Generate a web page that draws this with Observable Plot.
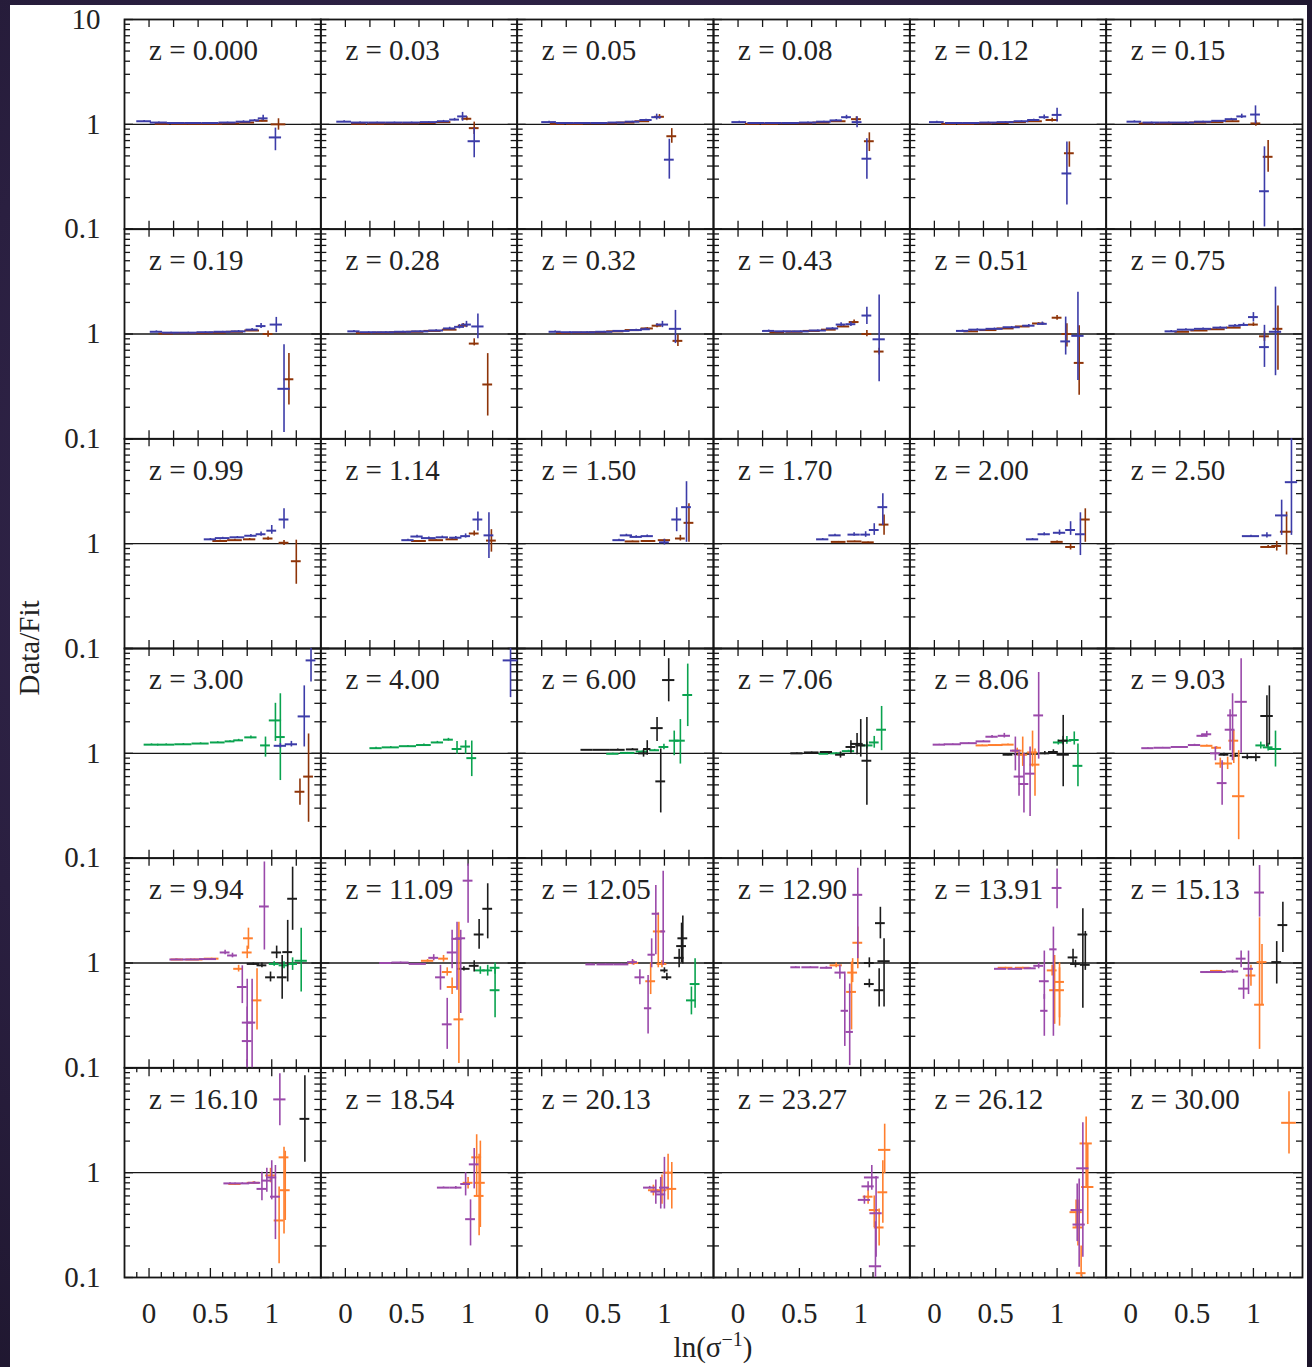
<!DOCTYPE html>
<html><head><meta charset="utf-8">
<script src="https://cdn.jsdelivr.net/npm/d3@7"></script>
<script src="https://cdn.jsdelivr.net/npm/@observablehq/plot@0.6"></script>
<style>
html,body{margin:0;padding:0;}
body{width:1312px;height:1367px;overflow:hidden;position:relative;
 background:radial-gradient(ellipse at 40% 40%, #3b2d58 0%, #2a1f40 55%, #1b1429 100%);}
#chart{position:absolute;left:10px;top:5px;}
</style></head><body><div id="chart"></div>
<script>
// ---- panel labels (redshift), row-major, 6 columns ----
const zLabels = ["z = 0.000","z = 0.03","z = 0.05","z = 0.08","z = 0.12","z = 0.15",
 "z = 0.19","z = 0.28","z = 0.32","z = 0.43","z = 0.51","z = 0.75",
 "z = 0.99","z = 1.14","z = 1.50","z = 1.70","z = 2.00","z = 2.50",
 "z = 3.00","z = 4.00","z = 6.00","z = 7.06","z = 8.06","z = 9.03",
 "z = 9.94","z = 11.09","z = 12.05","z = 12.90","z = 13.91","z = 15.13",
 "z = 16.10","z = 18.54","z = 20.13","z = 23.27","z = 26.12","z = 30.00"];

// ---- tick labels ----
const yTickValues = [10, 1, 0.1];
const yTickText = ["10", "1", "0.1"];
const xTickValues = [0, 0.5, 1];
const xTickText = ["0", "0.5", "1"];
const yMajorTicks = [0.1, 1, 10];
const yMinorTicks = [0.2,0.3,0.4,0.5,0.6,0.7,0.8,0.9,2,3,4,5,6,7,8,9];
const xTicksInner = [0, 0.2, 0.4, 0.6, 0.8, 1.0, 1.2];
const xTicksLastMajor = [0, 0.5, 1];
const xTicksLastMinor = [-0.1,0.1,0.2,0.3,0.4,0.6,0.7,0.8,0.9,1.1,1.2,1.3];

// ---- series: [panel, x, x half-width, y, y low, y high] ----
const blueData = [
 [0,-0.04,0.06,1.07,1.05,1.09],[0,0.08,0.07,1.04,1.03,1.05],[0,0.22,0.07,1.03,1.02,1.04],[0,0.36,0.07,1.03,1.02,1.04],[0,0.50,0.07,1.03,1.02,1.04],[0,0.64,0.07,1.04,1.03,1.05],[0,0.77,0.06,1.06,1.04,1.08],[0,0.86,0.04,1.09,1.07,1.11],[0,0.93,0.04,1.14,1.08,1.22],[0,1.03,0.05,0.75,0.56,0.92],
 [1,-0.01,0.06,1.06,1.04,1.08],[1,0.12,0.07,1.04,1.03,1.05],[1,0.26,0.07,1.04,1.03,1.05],[1,0.40,0.07,1.04,1.03,1.05],[1,0.54,0.07,1.04,1.03,1.05],[1,0.68,0.07,1.05,1.04,1.06],[1,0.80,0.05,1.07,1.05,1.09],[1,0.89,0.04,1.11,1.08,1.14],[1,0.955,0.04,1.19,1.07,1.3],[1,1.05,0.05,0.69,0.48,0.92],
 [2,0.06,0.06,1.05,1.04,1.07],[2,0.19,0.07,1.03,1.02,1.04],[2,0.33,0.07,1.03,1.02,1.04],[2,0.47,0.07,1.03,1.02,1.04],[2,0.61,0.07,1.04,1.03,1.05],[2,0.74,0.06,1.06,1.05,1.07],[2,0.85,0.05,1.1,1.08,1.12],[2,0.937,0.04,1.17,1.1,1.25],[2,1.04,0.04,0.46,0.30,0.72],
 [3,0.01,0.06,1.05,1.04,1.07],[3,0.15,0.07,1.03,1.02,1.04],[3,0.29,0.07,1.03,1.02,1.04],[3,0.43,0.07,1.03,1.02,1.04],[3,0.57,0.07,1.04,1.03,1.05],[3,0.70,0.06,1.06,1.05,1.07],[3,0.80,0.05,1.09,1.07,1.11],[3,0.884,0.04,1.17,1.12,1.22],[3,0.97,0.04,1.05,0.93,1.18],[3,1.05,0.04,0.47,0.30,0.73],
 [4,0.02,0.06,1.05,1.04,1.07],[4,0.16,0.07,1.03,1.02,1.04],[4,0.30,0.07,1.03,1.02,1.04],[4,0.44,0.07,1.04,1.03,1.05],[4,0.58,0.07,1.05,1.04,1.06],[4,0.71,0.06,1.07,1.06,1.08],[4,0.81,0.05,1.1,1.08,1.12],[4,0.895,0.04,1.17,1.12,1.23],[4,1.0,0.04,1.23,1.05,1.42],[4,1.08,0.04,0.34,0.17,0.68],
 [5,0.03,0.06,1.06,1.04,1.08],[5,0.17,0.07,1.04,1.03,1.05],[5,0.31,0.07,1.04,1.03,1.05],[5,0.45,0.07,1.04,1.03,1.05],[5,0.59,0.07,1.06,1.05,1.07],[5,0.72,0.06,1.08,1.07,1.09],[5,0.82,0.05,1.12,1.1,1.14],[5,0.905,0.04,1.19,1.14,1.25],[5,1.017,0.04,1.24,1.01,1.5],[5,1.09,0.04,0.23,0.105,0.61],
 [6,0.06,0.05,1.05,1.04,1.07],[6,0.18,0.07,1.03,1.02,1.04],[6,0.32,0.07,1.03,1.02,1.04],[6,0.46,0.07,1.04,1.03,1.05],[6,0.60,0.07,1.05,1.04,1.06],[6,0.73,0.06,1.06,1.05,1.08],[6,0.84,0.05,1.1,1.08,1.13],[6,0.913,0.04,1.19,1.13,1.26],[6,1.037,0.05,1.23,1.03,1.44],[6,1.1,0.05,0.30,0.115,0.79],
 [7,0.07,0.05,1.06,1.04,1.08],[7,0.19,0.07,1.04,1.03,1.05],[7,0.33,0.07,1.04,1.03,1.05],[7,0.47,0.07,1.05,1.04,1.06],[7,0.61,0.07,1.06,1.05,1.07],[7,0.74,0.06,1.08,1.07,1.1],[7,0.85,0.05,1.13,1.1,1.16],[7,0.93,0.04,1.17,1.12,1.23],[7,0.987,0.04,1.23,1.15,1.32],[7,1.08,0.05,1.18,0.9,1.55],
 [8,0.11,0.05,1.05,1.04,1.07],[8,0.23,0.07,1.04,1.03,1.05],[8,0.37,0.07,1.04,1.03,1.05],[8,0.51,0.07,1.05,1.04,1.06],[8,0.65,0.07,1.07,1.06,1.08],[8,0.77,0.05,1.09,1.08,1.11],[8,0.845,0.04,1.11,1.08,1.14],[8,0.984,0.05,1.23,1.15,1.32],[8,1.09,0.05,1.12,0.81,1.68],
 [9,0.25,0.05,1.07,1.05,1.09],[9,0.37,0.07,1.06,1.05,1.07],[9,0.51,0.07,1.06,1.05,1.07],[9,0.65,0.07,1.08,1.07,1.09],[9,0.77,0.05,1.13,1.11,1.15],[9,0.84,0.04,1.23,1.18,1.28],[9,0.92,0.04,1.24,1.18,1.3],[9,1.05,0.04,1.5,1.23,1.8],[9,1.15,0.05,0.89,0.35,2.35],
 [10,0.23,0.05,1.07,1.05,1.09],[10,0.35,0.07,1.1,1.09,1.12],[10,0.49,0.07,1.12,1.1,1.14],[10,0.63,0.07,1.16,1.14,1.18],[10,0.77,0.05,1.2,1.18,1.23],[10,0.88,0.04,1.25,1.21,1.3],[10,1.07,0.04,0.85,0.63,1.45],[10,1.17,0.05,0.96,0.36,2.5],
 [11,0.33,0.05,1.06,1.05,1.08],[11,0.45,0.07,1.1,1.08,1.12],[11,0.59,0.07,1.12,1.1,1.14],[11,0.73,0.06,1.15,1.13,1.17],[11,0.85,0.05,1.2,1.17,1.23],[11,0.92,0.04,1.22,1.18,1.27],[11,1.0,0.04,1.45,1.3,1.6],[11,1.09,0.04,0.75,0.48,1.21],[11,1.18,0.05,1.05,0.4,2.8],
 [12,0.5,0.05,1.1,1.08,1.12],[12,0.6,0.06,1.13,1.11,1.15],[12,0.72,0.06,1.15,1.13,1.17],[12,0.83,0.05,1.19,1.16,1.22],[12,0.913,0.04,1.23,1.18,1.29],[12,1.0,0.04,1.33,1.23,1.49],[12,1.1,0.04,1.7,1.38,2.15],
 [13,0.51,0.05,1.08,1.06,1.1],[13,0.584,0.05,1.17,1.14,1.2],[13,0.68,0.06,1.13,1.11,1.16],[13,0.79,0.05,1.15,1.12,1.18],[13,0.9,0.05,1.14,1.11,1.17],[13,0.98,0.04,1.18,1.13,1.24],[13,1.08,0.04,1.7,1.32,2.0],[13,1.17,0.04,1.2,0.72,1.97],
 [14,0.63,0.05,1.08,1.06,1.1],[14,0.69,0.05,1.2,1.17,1.23],[14,0.77,0.05,1.16,1.13,1.19],[14,0.86,0.05,1.18,1.15,1.21],[14,1.0,0.04,1.03,0.97,1.1],[14,1.1,0.04,1.7,1.3,2.2],[14,1.18,0.04,2.23,1.03,3.9],
 [15,0.69,0.05,1.1,1.08,1.12],[15,0.79,0.05,1.2,1.17,1.23],[15,0.946,0.05,1.22,1.18,1.27],[15,1.04,0.04,1.22,1.15,1.3],[15,1.11,0.04,1.35,1.2,1.55],[15,1.18,0.04,2.23,1.49,3.0],
 [16,0.8,0.05,1.1,1.08,1.12],[16,0.895,0.05,1.23,1.19,1.27],[16,1.02,0.05,1.27,1.2,1.35],[16,1.11,0.04,1.35,1.2,1.62],[16,1.19,0.04,1.23,0.77,1.97],
 [17,0.98,0.07,1.18,1.16,1.2],[17,1.11,0.04,1.2,1.13,1.27],[17,1.23,0.05,1.86,1.2,2.6],[17,1.31,0.05,3.86,1.2,10],
 [18,1.07,0.05,1.18,1.12,1.24],[18,1.16,0.05,1.22,1.15,1.3],[18,1.265,0.05,2.25,1.15,4.4],[18,1.32,0.04,7.7,4.8,10],
 [19,1.346,0.06,7.7,3.4,10]
];
const brownData = [
 [0,0.11,0.06,1.01,1.0,1.02],[0,0.25,0.07,1.01,1.0,1.02],[0,0.39,0.07,1.01,1.0,1.02],[0,0.53,0.07,1.01,1.0,1.02],[0,0.67,0.07,1.02,1.01,1.03],[0,0.8,0.06,1.04,1.03,1.05],[0,0.92,0.05,1.08,1.06,1.1],[0,1.055,0.06,1.0,0.88,1.13],
 [1,0.11,0.06,1.01,1.0,1.02],[1,0.25,0.07,1.01,1.0,1.02],[1,0.39,0.07,1.02,1.01,1.03],[1,0.53,0.07,1.02,1.01,1.03],[1,0.67,0.07,1.03,1.02,1.04],[1,0.8,0.06,1.05,1.04,1.06],[1,0.99,0.04,1.13,1.08,1.18],[1,1.05,0.04,0.92,0.8,1.05],
 [2,0.13,0.06,1.01,1.0,1.02],[2,0.27,0.07,1.01,1.0,1.02],[2,0.41,0.07,1.02,1.01,1.03],[2,0.55,0.07,1.02,1.01,1.03],[2,0.69,0.07,1.04,1.03,1.05],[2,0.82,0.06,1.07,1.06,1.08],[2,0.96,0.04,1.18,1.12,1.24],[2,1.06,0.04,0.77,0.66,0.91],
 [3,0.12,0.06,1.01,1.0,1.02],[3,0.26,0.07,1.01,1.0,1.02],[3,0.4,0.07,1.02,1.01,1.03],[3,0.54,0.07,1.02,1.01,1.03],[3,0.68,0.07,1.04,1.03,1.05],[3,0.82,0.06,1.07,1.06,1.08],[3,0.965,0.04,1.12,1.06,1.18],[3,1.07,0.04,0.69,0.55,0.83],
 [4,0.12,0.06,1.01,1.0,1.02],[4,0.26,0.07,1.01,1.0,1.02],[4,0.4,0.07,1.02,1.01,1.03],[4,0.54,0.07,1.03,1.02,1.04],[4,0.68,0.07,1.05,1.04,1.06],[4,0.82,0.06,1.07,1.06,1.08],[4,0.96,0.05,1.1,1.05,1.14],[4,1.1,0.04,0.53,0.39,0.68],
 [5,0.13,0.06,1.02,1.01,1.03],[5,0.27,0.07,1.02,1.01,1.03],[5,0.41,0.07,1.03,1.02,1.04],[5,0.55,0.07,1.04,1.03,1.05],[5,0.69,0.07,1.05,1.04,1.06],[5,0.83,0.06,1.07,1.06,1.08],[5,1.02,0.04,1.02,0.96,1.08],[5,1.12,0.04,0.49,0.35,0.7],
 [6,0.14,0.06,1.01,1.0,1.02],[6,0.28,0.07,1.02,1.01,1.03],[6,0.42,0.07,1.02,1.01,1.03],[6,0.56,0.07,1.03,1.02,1.04],[6,0.7,0.07,1.05,1.04,1.06],[6,0.84,0.06,1.08,1.06,1.1],[6,0.97,0.04,1.0,0.93,1.07],[6,1.14,0.04,0.37,0.21,0.65],
 [7,0.15,0.06,1.02,1.01,1.03],[7,0.29,0.07,1.03,1.02,1.04],[7,0.43,0.07,1.04,1.03,1.05],[7,0.57,0.07,1.05,1.04,1.06],[7,0.71,0.07,1.07,1.06,1.08],[7,0.85,0.06,1.1,1.08,1.12],[7,0.96,0.04,1.2,1.14,1.26],[7,1.05,0.04,0.81,0.77,0.9],[7,1.16,0.04,0.33,0.165,0.65],
 [8,0.18,0.06,1.02,1.01,1.03],[8,0.32,0.07,1.03,1.02,1.04],[8,0.46,0.07,1.04,1.03,1.05],[8,0.6,0.07,1.06,1.05,1.07],[8,0.74,0.06,1.09,1.08,1.1],[8,0.86,0.05,1.13,1.11,1.15],[8,0.94,0.04,1.2,1.15,1.25],[8,1.11,0.04,0.86,0.76,0.98],
 [9,0.32,0.06,1.04,1.03,1.05],[9,0.46,0.07,1.05,1.04,1.06],[9,0.6,0.07,1.07,1.06,1.08],[9,0.74,0.06,1.1,1.09,1.11],[9,0.86,0.05,1.18,1.16,1.2],[9,0.946,0.04,1.3,1.25,1.36],[9,1.05,0.04,1.0,0.94,1.08],[9,1.15,0.04,0.68,0.63,0.73],
 [10,0.3,0.06,1.06,1.05,1.07],[10,0.44,0.07,1.09,1.08,1.1],[10,0.58,0.07,1.13,1.12,1.14],[10,0.72,0.06,1.18,1.16,1.2],[10,0.85,0.05,1.26,1.24,1.28],[10,1.0,0.04,1.43,1.35,1.5],[10,1.08,0.04,1.0,0.75,1.25],[10,1.18,0.04,0.53,0.26,1.2],
 [11,0.42,0.06,1.05,1.04,1.06],[11,0.56,0.07,1.08,1.07,1.09],[11,0.7,0.07,1.11,1.1,1.12],[11,0.84,0.06,1.15,1.13,1.17],[11,1.0,0.04,1.23,1.18,1.28],[11,1.09,0.04,0.95,0.85,1.05],[11,1.2,0.04,1.12,0.45,1.85],
 [12,0.58,0.06,1.06,1.05,1.08],[12,0.7,0.06,1.08,1.06,1.1],[12,0.82,0.05,1.1,1.08,1.12],[12,0.97,0.04,1.12,1.08,1.16],[12,1.1,0.04,1.02,0.96,1.07],[12,1.2,0.04,0.68,0.41,1.08],
 [13,0.6,0.06,1.06,1.05,1.07],[13,0.74,0.06,1.08,1.07,1.09],[13,0.87,0.05,1.1,1.08,1.12],[13,1.05,0.04,1.25,1.18,1.32],[13,1.19,0.04,1.07,0.83,1.36],
 [14,0.74,0.06,1.05,1.04,1.06],[14,0.87,0.06,1.06,1.05,1.07],[14,1.0,0.05,1.08,1.06,1.1],[14,1.13,0.04,1.12,1.06,1.2],[14,1.2,0.04,1.58,1.03,2.4],
 [15,0.82,0.06,1.04,1.03,1.05],[15,0.95,0.06,1.05,1.04,1.06],[15,1.06,0.05,1.03,1.02,1.04],[15,1.19,0.04,1.52,1.2,1.88],
 [16,1.0,0.05,1.04,1.02,1.06],[16,1.11,0.04,0.93,0.87,0.99],[16,1.23,0.04,1.7,1.03,2.15],
 [17,1.12,0.06,0.93,0.9,0.96],[17,1.19,0.04,0.95,0.85,1.05],[17,1.27,0.05,1.3,0.78,2.0],
 [18,1.23,0.04,0.43,0.32,0.57],[18,1.30,0.04,0.6,0.22,1.53]
];
const greenData = [
 [18,0.02,0.06,1.21,1.2,1.23],[18,0.14,0.07,1.21,1.2,1.23],[18,0.28,0.07,1.22,1.21,1.24],[18,0.42,0.07,1.24,1.22,1.26],[18,0.56,0.06,1.27,1.25,1.29],[18,0.66,0.04,1.3,1.28,1.32],[18,0.73,0.04,1.33,1.31,1.36],[18,0.83,0.05,1.42,1.38,1.46],[18,0.949,0.04,1.19,0.92,1.43],[18,1.03,0.05,2.06,1.3,3.0],[18,1.07,0.04,1.43,0.55,3.7],
 [19,0.25,0.05,1.12,1.1,1.14],[19,0.37,0.07,1.14,1.12,1.16],[19,0.51,0.07,1.17,1.15,1.19],[19,0.64,0.06,1.2,1.18,1.23],[19,0.75,0.05,1.27,1.24,1.3],[19,0.84,0.04,1.35,1.31,1.39],[19,0.91,0.04,1.1,0.98,1.3],[19,0.98,0.04,1.16,0.98,1.32],[19,1.03,0.04,0.9,0.6,1.31],
 [20,0.58,0.05,0.99,0.98,1.0],[20,0.7,0.06,1.01,1.0,1.02],[20,0.82,0.05,1.04,1.03,1.05],[20,0.92,0.04,1.07,1.05,1.09],[20,0.996,0.04,1.15,1.08,1.22],[20,1.08,0.04,1.32,0.95,1.63],[20,1.13,0.04,1.32,0.79,2.1],[20,1.19,0.04,3.6,1.8,7.1],
 [21,0.7,0.04,0.99,0.98,1.0],[21,0.8,0.05,1.0,0.99,1.01],[21,0.9,0.05,1.05,1.03,1.07],[21,1.05,0.05,1.19,1.1,1.28],[21,1.11,0.04,1.27,1.12,1.45],[21,1.17,0.04,1.68,1.06,2.8],
 [22,1.01,0.04,1.27,1.2,1.34],[22,1.08,0.04,1.32,1.22,1.45],[22,1.14,0.04,1.34,1.2,1.6],[22,1.17,0.04,0.76,0.48,1.23],
 [23,1.06,0.04,1.19,1.1,1.28],[23,1.12,0.04,1.14,1.05,1.25],[23,1.18,0.05,1.1,0.74,1.63],
 [24,1.02,0.04,0.98,0.93,1.03],[24,1.1,0.04,0.95,0.88,1.03],[24,1.17,0.04,0.98,0.85,1.12],[24,1.24,0.05,1.05,0.53,2.15],
 [25,1.1,0.04,0.85,0.78,0.92],[25,1.16,0.04,0.85,0.75,0.95],[25,1.22,0.04,0.9,0.78,1.0],[25,1.22,0.04,0.55,0.3,0.88],
 [26,1.25,0.04,0.63,0.37,1.1],[26,1.22,0.04,0.44,0.32,0.59]
];
const blackData = [
 [20,0.37,0.05,1.08,1.07,1.09],[20,0.49,0.07,1.08,1.07,1.09],[20,0.62,0.06,1.08,1.07,1.1],[20,0.74,0.05,1.09,1.07,1.11],[20,0.83,0.04,1.0,0.92,1.08],[20,0.86,0.03,1.1,0.96,1.32],[20,0.94,0.05,1.74,1.3,2.2],[20,0.97,0.04,0.54,0.27,1.1],[20,1.035,0.05,5.0,3.1,8.0],
 [21,0.48,0.05,1.0,0.99,1.01],[21,0.6,0.06,1.02,1.01,1.03],[21,0.72,0.05,1.03,1.02,1.04],[21,0.835,0.04,0.97,0.9,1.03],[21,0.92,0.04,1.15,1.0,1.32],[21,0.97,0.05,1.23,0.97,1.55],[21,1.0,0.04,1.19,0.92,2.1],[21,1.05,0.04,0.85,0.32,2.2],
 [22,0.6,0.04,0.97,0.95,0.99],[22,0.7,0.05,0.98,0.96,1.0],[22,0.8,0.05,0.99,0.97,1.01],[22,0.9,0.04,1.0,0.97,1.04],[22,0.97,0.04,1.03,0.99,1.08],[22,1.05,0.04,1.32,1.2,1.45],[22,1.05,0.05,0.97,0.48,2.3],
 [23,0.76,0.04,0.97,0.94,1.0],[23,0.85,0.04,0.95,0.92,0.98],[23,0.95,0.04,0.92,0.87,0.97],[23,1.02,0.04,0.92,0.83,1.0],[23,1.11,0.05,2.27,1.15,3.55],[23,1.13,0.03,2.27,1.2,4.4],
 [24,0.85,0.05,0.98,0.95,1.0],[24,0.92,0.04,0.95,0.9,1.0],[24,0.99,0.04,0.73,0.66,0.82],[24,1.04,0.04,1.26,1.1,1.45],[24,1.085,0.04,0.73,0.45,1.18],[24,1.13,0.04,1.27,0.66,2.55],[24,1.17,0.04,4.1,2.05,8.2],
 [25,0.966,0.05,0.88,0.84,0.92],[25,1.05,0.04,0.94,0.82,1.05],[25,1.09,0.04,1.87,1.35,2.6],[25,1.16,0.04,3.29,1.7,5.7],
 [26,1.0,0.03,0.85,0.8,0.9],[26,1.02,0.04,0.73,0.68,0.8],[26,1.12,0.04,1.12,0.9,1.35],[26,1.14,0.04,1.45,1.0,2.4],[26,1.15,0.04,1.72,0.98,2.8],
 [27,1.07,0.04,1.0,0.9,1.12],[27,1.07,0.04,0.63,0.58,0.7],[27,1.15,0.04,0.55,0.38,0.88],[27,1.16,0.04,2.4,1.7,3.4],[27,1.19,0.05,1.04,0.38,1.7],
 [28,1.13,0.04,1.13,0.95,1.35],[28,1.15,0.04,0.98,0.9,1.06],[28,1.21,0.04,1.87,0.37,3.3],[28,1.23,0.04,0.96,0.85,2.0],
 [29,1.19,0.04,1.02,0.63,1.6],[29,1.24,0.04,2.3,1.26,3.8],
 [30,1.27,0.04,3.26,1.26,8.4]
];
const orangeData = [
 [22,0.39,0.05,1.19,1.18,1.2],[22,0.5,0.06,1.2,1.19,1.21],[22,0.6,0.05,1.21,1.2,1.23],[22,0.675,0.04,1.06,1.0,1.12],[22,0.72,0.04,0.97,0.75,1.43],[22,0.8,0.04,1.02,0.74,1.63],[22,0.82,0.04,0.78,0.39,1.1],
 [23,0.62,0.05,1.18,1.16,1.2],[23,0.7,0.04,1.13,1.1,1.16],[23,0.73,0.04,0.8,0.72,0.9],[23,0.79,0.04,0.8,0.7,0.92],[23,0.84,0.04,1.32,0.8,1.65],[23,0.88,0.05,0.39,0.15,1.06],
 [24,0.23,0.05,1.08,1.07,1.09],[24,0.37,0.07,1.08,1.07,1.09],[24,0.51,0.06,1.1,1.09,1.11],[24,0.73,0.04,0.88,0.82,0.95],[24,0.8,0.04,1.26,1.1,1.45],[24,0.81,0.04,1.72,1.35,2.15],[24,0.88,0.04,0.44,0.23,0.88],
 [25,0.67,0.05,1.05,1.02,1.08],[25,0.8,0.04,1.1,1.02,1.18],[25,0.83,0.04,0.82,0.75,0.9],[25,0.87,0.04,0.59,0.5,0.72],[25,0.925,0.04,0.29,0.11,2.45],
 [26,0.75,0.04,1.0,0.95,1.05],[26,0.888,0.04,0.67,0.5,1.0],[26,0.95,0.04,2.0,0.9,3.0],[26,0.98,0.04,0.98,0.9,1.05],
 [27,0.8,0.05,0.95,0.9,1.0],[27,0.934,0.04,0.81,0.65,1.1],[27,0.925,0.04,0.53,0.23,1.02],[27,0.976,0.04,1.56,0.88,2.2],
 [28,0.58,0.06,0.9,0.89,0.91],[28,0.72,0.06,0.9,0.89,0.91],[28,0.96,0.04,0.85,0.75,0.95],[28,0.98,0.04,0.55,0.26,1.18],[28,1.02,0.04,0.66,0.3,1.0],[28,1.02,0.04,0.55,0.25,0.9],
 [29,0.7,0.05,0.84,0.83,0.85],[29,0.98,0.04,0.76,0.6,0.95],[29,1.05,0.04,0.4,0.15,2.7],[29,1.07,0.04,1.02,0.4,1.5],
 [30,0.7,0.05,0.78,0.77,0.79],[30,0.85,0.05,0.8,0.78,0.82],[30,0.99,0.04,0.94,0.8,1.1],[30,1.06,0.04,0.35,0.135,0.73],[30,1.1,0.04,1.4,0.26,1.75],[30,1.11,0.04,0.68,0.35,1.6],
 [31,1.0,0.04,0.8,0.7,0.9],[31,1.07,0.04,1.4,0.6,2.3],[31,1.1,0.04,0.8,0.3,2.0],[31,1.09,0.04,0.6,0.25,1.5],
 [32,0.91,0.04,0.68,0.6,0.76],[32,0.98,0.04,0.68,0.5,0.95],[32,1.03,0.04,1.0,0.55,1.5],[32,1.06,0.04,0.7,0.45,1.25],
 [33,1.06,0.04,0.59,0.5,0.68],[33,1.11,0.04,0.44,0.3,0.6],[33,1.15,0.04,0.3,0.2,0.45],[33,1.18,0.04,0.65,0.33,1.3],[33,1.195,0.05,1.65,0.98,2.9],
 [34,1.155,0.05,0.42,0.3,0.55],[34,1.17,0.04,0.3,0.2,0.55],[34,1.196,0.04,0.11,0.1,0.2],[34,1.237,0.05,1.9,0.73,3.4],[34,1.25,0.05,0.73,0.32,1.9],
 [35,1.29,0.06,2.99,1.51,5.9]
];
const purpleData = [
 [22,0.04,0.05,1.21,1.2,1.22],[22,0.15,0.07,1.22,1.21,1.23],[22,0.28,0.07,1.25,1.24,1.26],[22,0.4,0.06,1.3,1.28,1.32],[22,0.47,0.05,1.44,1.4,1.48],[22,0.57,0.05,1.47,1.4,1.55],[22,0.66,0.04,1.06,0.68,1.43],[22,0.69,0.04,0.6,0.39,1.02],[22,0.73,0.04,0.51,0.27,1.0],[22,0.78,0.04,0.64,0.25,1.15],[22,0.85,0.04,2.3,0.88,5.9],
 [23,0.14,0.05,1.12,1.11,1.13],[23,0.26,0.07,1.13,1.12,1.14],[23,0.4,0.07,1.15,1.14,1.16],[23,0.52,0.05,1.2,1.18,1.22],[23,0.58,0.04,1.47,1.42,1.52],[23,0.62,0.04,1.52,1.42,1.62],[23,0.69,0.04,1.0,0.85,1.15],[23,0.745,0.04,0.52,0.32,0.85],[23,0.81,0.04,1.68,1.06,2.6],[23,0.83,0.04,2.3,0.85,3.7],[23,0.9,0.05,3.1,1.0,8.0],
 [24,0.22,0.05,1.08,1.07,1.09],[24,0.34,0.07,1.08,1.07,1.09],[24,0.48,0.07,1.09,1.08,1.1],[24,0.62,0.04,1.26,1.2,1.32],[24,0.68,0.04,1.18,1.12,1.24],[24,0.76,0.04,0.59,0.41,0.94],[24,0.8,0.04,0.27,0.105,0.7],[24,0.8,0.04,0.18,0.1,0.38],[24,0.84,0.03,0.27,0.1,0.7],[24,0.94,0.04,3.46,1.33,9.2],
 [25,0.33,0.05,1.0,0.99,1.01],[25,0.45,0.07,1.01,1.0,1.02],[25,0.59,0.07,0.98,0.97,0.99],[25,0.72,0.04,1.12,1.05,1.2],[25,0.775,0.04,0.73,0.55,0.95],[25,0.83,0.04,0.26,0.15,0.46],[25,0.87,0.04,1.26,0.88,2.05],[25,0.91,0.04,1.7,0.55,2.45],[25,0.94,0.04,1.72,0.33,2.05],[25,1.0,0.04,6.1,2.4,8.8],
 [26,0.4,0.04,0.97,0.96,0.98],[26,0.52,0.07,0.97,0.96,0.98],[26,0.65,0.06,0.97,0.96,0.98],[26,0.74,0.04,1.02,0.96,1.08],[26,0.8,0.04,0.73,0.62,0.86],[26,0.867,0.03,0.37,0.21,0.76],[26,0.896,0.03,1.2,0.9,1.7],[26,0.93,0.03,2.95,1.2,5.5],[26,0.99,0.02,2.0,0.95,7.5],
 [27,0.47,0.04,0.91,0.9,0.92],[27,0.59,0.07,0.91,0.9,0.92],[27,0.72,0.05,0.9,0.88,0.92],[27,0.83,0.04,0.81,0.7,0.95],[27,0.87,0.03,0.35,0.16,0.82],[27,0.91,0.03,0.22,0.105,0.63],[27,0.976,0.04,4.47,1.1,8.0],
 [28,0.54,0.05,0.88,0.87,0.89],[28,0.66,0.06,0.88,0.87,0.89],[28,0.78,0.05,0.89,0.88,0.9],[28,0.85,0.04,0.94,0.88,1.0],[28,0.896,0.04,0.67,0.45,1.3],[28,0.896,0.03,0.35,0.2,0.5],[28,0.97,0.03,1.35,0.2,2.2],[28,1.0,0.04,5.2,3.3,7.9],
 [29,0.62,0.05,0.82,0.81,0.83],[29,0.72,0.06,0.82,0.81,0.83],[29,0.83,0.05,0.83,0.8,0.86],[29,0.9,0.04,1.1,0.9,1.3],[29,0.92,0.04,0.57,0.45,0.7],[29,0.96,0.04,0.88,0.5,1.3],[29,1.05,0.04,4.7,2.74,8.5],
 [30,0.66,0.05,0.79,0.78,0.8],[30,0.76,0.06,0.79,0.78,0.8],[30,0.86,0.05,0.8,0.78,0.82],[30,0.92,0.04,0.7,0.54,1.01],[30,0.96,0.04,0.84,0.65,1.1],[30,1.0,0.04,0.9,0.55,1.3],[30,1.03,0.04,0.59,0.23,1.17],[30,1.066,0.05,5.0,2.8,8.8],
 [31,0.8,0.05,0.72,0.71,0.73],[31,0.9,0.05,0.72,0.7,0.74],[31,0.98,0.04,0.78,0.6,1.0],[31,1.02,0.04,0.36,0.2,0.55],[31,1.05,0.04,1.2,0.7,1.7],
 [32,0.88,0.05,0.72,0.7,0.74],[32,0.93,0.04,0.66,0.5,0.85],[32,0.97,0.04,0.62,0.45,0.9],[32,1.0,0.04,0.72,0.45,1.4],
 [33,1.03,0.05,0.55,0.5,0.6],[33,1.06,0.05,0.74,0.67,0.82],[33,1.09,0.06,0.9,0.68,1.17],[33,1.125,0.05,0.41,0.156,0.92],[33,1.12,0.05,0.128,0.1,0.34],
 [34,1.164,0.05,0.44,0.22,0.78],[34,1.18,0.05,0.32,0.125,0.87],[34,1.21,0.05,1.1,0.156,3.0]
];

const seriesList = [
 {data: greenData, color: "#0aa34f"},
 {data: blackData, color: "#1c1c1c"},
 {data: orangeData, color: "#ff7f2e"},
 {data: purpleData, color: "#9a49aa"},
 {data: brownData, color: "#8e3408"},
 {data: blueData, color: "#3c3ca8"}
];

// ---- layout ----
const W = 1297, H = 1362, mL = 114, mT = 14, mR = 5, mB = 90;
const NC = 6, NR = 6;
const fw = (W - mL - mR) / NC, fh = (H - mT - mB) / NR;
const cols = d3.range(NC), rows = d3.range(NR);
const cells = d3.cross(cols, rows).map(([c, r]) => ({c, r}));
const ink = "#161616";
const font = "'Liberation Serif','DejaVu Serif',serif";

const toRows = arr => arr.map(([p, x, hw, y, lo, hi]) => ({c: p % NC, r: Math.floor(p / NC), x, xl: x - hw, xh: x + hw, y, lo, hi}));

const cellTicks = (vals, filt) => cells.filter(filt || (() => true)).flatMap(({c, r}) => vals.map(v => ({c, r, v})));

const yMinorT = cellTicks(yMinorTicks), yMajorT = cellTicks(yMajorTicks);
const xInnerT = cellTicks(xTicksInner, d => d.r < NR - 1);
const xLastMajT = cellTicks(xTicksLastMajor, d => d.r === NR - 1);
const xLastMinT = cellTicks(xTicksLastMinor, d => d.r === NR - 1);

const yLabelRows = rows.flatMap(r => yTickValues.map((v, i) => ({c: 0, r, v, t: yTickText[i]})).filter(d => d.v !== 10 || d.r === 0));
const xLabelRows = cols.flatMap(c => xTickValues.map((v, i) => ({c, r: NR - 1, v, t: xTickText[i]})));
const zRows = zLabels.map((t, i) => ({c: i % NC, r: Math.floor(i / NC), t}));

const tick = {stroke: ink, strokeWidth: 1.3};
const marks = [
 Plot.frame({stroke: ink, strokeWidth: 1.8}),
 Plot.ruleY([1], {stroke: ink, strokeWidth: 1.4}),
 // y ticks, inward on left and right edges
 Plot.ruleY(yMinorT, {fx: "c", fy: "r", y: "v", insetRight: fw - 6, ...tick}),
 Plot.ruleY(yMinorT, {fx: "c", fy: "r", y: "v", insetLeft: fw - 6, ...tick}),
 Plot.ruleY(yMajorT, {fx: "c", fy: "r", y: "v", insetRight: fw - 9, ...tick}),
 Plot.ruleY(yMajorT, {fx: "c", fy: "r", y: "v", insetLeft: fw - 9, ...tick}),
 // x ticks
 Plot.ruleX(xInnerT, {fx: "c", fy: "r", x: "v", insetBottom: fh - 8, ...tick}),
 Plot.ruleX(xInnerT, {fx: "c", fy: "r", x: "v", insetTop: fh - 8, ...tick}),
 Plot.ruleX(xLastMajT, {fx: "c", fy: "r", x: "v", insetBottom: fh - 9, ...tick}),
 Plot.ruleX(xLastMajT, {fx: "c", fy: "r", x: "v", insetTop: fh - 9, ...tick}),
 Plot.ruleX(xLastMinT, {fx: "c", fy: "r", x: "v", insetBottom: fh - 5, ...tick}),
 Plot.ruleX(xLastMinT, {fx: "c", fy: "r", x: "v", insetTop: fh - 5, ...tick})
];
for (const s of seriesList) {
 const d = toRows(s.data);
 marks.push(Plot.ruleX(d, {fx: "c", fy: "r", x: "x", y1: "lo", y2: "hi", stroke: s.color, strokeWidth: 1.6}));
 marks.push(Plot.ruleY(d, {fx: "c", fy: "r", y: "y", x1: "xl", x2: "xh", stroke: s.color, strokeWidth: 2}));
}
marks.push(
 Plot.text(zRows, {fx: "c", fy: "r", x: () => 0, y: () => 5, text: "t", textAnchor: "start", lineAnchor: "middle", fontSize: 29, fill: "#222"}),
 Plot.text(yLabelRows, {fx: "c", fy: "r", x: () => -0.2, y: "v", text: "t", textAnchor: "end", lineAnchor: "middle", dx: -24, fontSize: 29, fill: "#222"}),
 Plot.text(xLabelRows, {fx: "c", fy: "r", x: "v", y: () => 0.1, text: "t", textAnchor: "middle", lineAnchor: "middle", dy: 36, fontSize: 29, fill: "#222"})
);

const plot = Plot.plot({
 width: W, height: H,
 marginLeft: mL, marginTop: mT, marginRight: mR, marginBottom: mB,
 style: {background: "white", fontFamily: font, overflow: "visible"},
 x: {domain: [-0.2, 1.4], axis: null},
 y: {type: "log", domain: [0.1, 10], axis: null},
 fx: {domain: cols, padding: 0, round: false, axis: null},
 fy: {domain: rows, padding: 0, round: false, axis: null},
 marks
});

const svg = d3.select(plot);
svg.append("text")
 .attr("transform", `translate(22,${mT + (H - mT - mB) / 2}) rotate(-90)`)
 .attr("text-anchor", "middle").attr("dominant-baseline", "middle")
 .attr("font-family", font).attr("font-size", 29).attr("fill", "#222")
 .text("Data/Fit");
const xl = svg.append("text")
 .attr("x", mL + (W - mL - mR) / 2).attr("y", H - 10)
 .attr("text-anchor", "middle")
 .attr("font-family", font).attr("font-size", 29).attr("fill", "#222");
xl.append("tspan").text("ln(σ");
xl.append("tspan").attr("dy", -11).attr("font-size", 20).text("−1");
xl.append("tspan").attr("dy", 11).text(")");

document.getElementById("chart").append(plot);
</script></body></html>
